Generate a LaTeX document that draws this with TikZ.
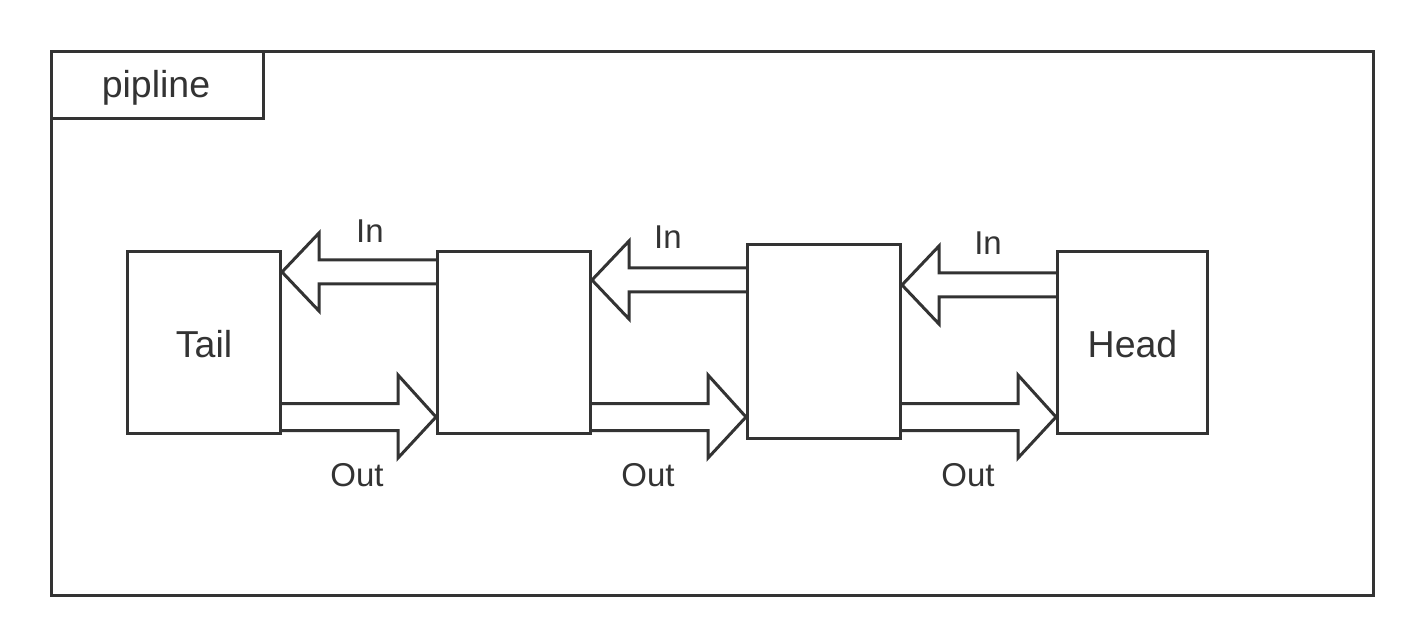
\documentclass[tikz,border=0pt]{standalone}
\usepackage{fontspec}
\setmainfont{Liberation Sans}
\usetikzlibrary{calc}
\definecolor{ink}{HTML}{333333}
\tikzset{
  box/.style={draw=ink, line width=3pt, fill=white, inner sep=0pt, anchor=north west, text=ink},
  blk/.style={draw=ink, line width=3pt, line join=miter, miter limit=10},
  lbl/.style={text=ink, inner sep=0pt, anchor=base, font=\fontsize{33}{40}\selectfont},
  big/.style={lbl, font=\fontsize{37.5}{44}\selectfont},
}
% in-arrow: #1 source (right), #2 target (left), #3 tip y
\newcommand\inarr[3]{%
  \draw[blk] (#1.west |- 0,#3-12) -- ($(#2.east |- 0,#3-12)+(37,0)$)
    -- ($(#2.east |- 0,#3-39)+(37,0)$) -- (#2.east |- 0,#3)
    -- ($(#2.east |- 0,#3+39)+(37,0)$) -- ($(#2.east |- 0,#3+12)+(37,0)$)
    -- (#1.west |- 0,#3+12);}
% out-arrow: #1 source (left), #2 target (right), #3 tip y
\newcommand\outarr[3]{%
  \draw[blk] (#1.east |- 0,#3-13.5) -- ($(#2.west |- 0,#3-13.5)+(-38,0)$)
    -- ($(#2.west |- 0,#3-42)+(-38,0)$) -- (#2.west |- 0,#3)
    -- ($(#2.west |- 0,#3+41)+(-38,0)$) -- ($(#2.west |- 0,#3+13.5)+(-38,0)$)
    -- (#1.east |- 0,#3+13.5);}
\begin{document}
\begin{tikzpicture}[x=1pt,y=-1pt]
\useasboundingbox (0,0) rectangle (1422,644);
\node[box, minimum width=1322pt, minimum height=544pt] (frame) at (50,50) {};
\node[box, minimum width=212pt, minimum height=67pt] (tab) at (50,50) {};
\node[big] (title) at (156,98) {pipline};

\node[box, minimum width=153pt, minimum height=182pt] (tail) at (126,250) {};
\node[box, minimum width=153pt, minimum height=182pt] (b2) at (436,250) {};
\node[box, minimum width=153pt, minimum height=194pt] (b3) at (746,243) {};
\node[box, minimum width=150pt, minimum height=182pt] (head) at (1056,250) {};
\node[big] (tailt) at (tail.center |- 0,357) {Tail};
\node[big] (headt) at (head.center |- 0,357) {Head};

\inarr{b2}{tail}{272}
\inarr{b3}{b2}{280}
\inarr{head}{b3}{285}

\outarr{tail}{b2}{417}
\outarr{b2}{b3}{417}
\outarr{b3}{head}{417}

\node[lbl] (in1) at (370,243) {In};
\node[lbl] (in2) at (668,249) {In};
\node[lbl] (in3) at (988,255) {In};
\node[lbl] (out1) at (357,486) {Out};
\node[lbl] (out2) at (648,486) {Out};
\node[lbl] (out3) at (968,486) {Out};
\end{tikzpicture}
\end{document}
